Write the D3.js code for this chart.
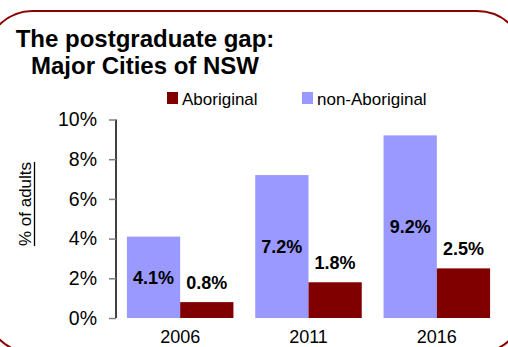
<!DOCTYPE html>
<html>
<head>
<meta charset="utf-8">
<script src="https://cdn.jsdelivr.net/npm/d3@7"></script>
<style>
  html, body { margin: 0; padding: 0; background: #fff; }
  svg { display: block; font-family: "Liberation Sans", Arial, sans-serif; }
</style>
</head>
<body>
<svg id="chart" width="508" height="347"></svg>
<script>
// Census years and share of adults holding a postgraduate qualification (%)
const years = ["2006", "2011", "2016"];
const aboriginal = [0.8, 1.8, 2.5];
const nonAboriginal = [4.1, 7.2, 9.2];
const yTicks = [0, 2, 4, 6, 8, 10];
const seriesNames = ["non-Aboriginal", "Aboriginal"];
const legendNames = ["Aboriginal", "non-Aboriginal"];

const colors = { "Aboriginal": "#800000", "non-Aboriginal": "#9999ff" };

const svg = d3.select("#chart");

// Rounded frame around the whole panel
svg.append("rect")
  .attr("x", -15).attr("y", 11)
  .attr("width", 540).attr("height", 342)
  .attr("rx", 48).attr("ry", 48)
  .attr("fill", "none")
  .attr("stroke", "#8b0000")
  .attr("stroke-width", 2);

// Title
const title = svg.append("text")
  .attr("text-anchor", "middle")
  .attr("font-weight", "bold")
  .attr("font-size", 24)
  .attr("fill", "#000");
title.append("tspan").attr("x", 145).attr("y", 47).text("The postgraduate gap:");
title.append("tspan").attr("x", 145).attr("y", 74).text("Major Cities of NSW");

// Scales
const x = d3.scaleBand().domain(years).range([116, 501]).paddingInner(0.17).paddingOuter(0.085);
const xInner = d3.scaleBand().domain(seriesNames).range([0, x.bandwidth()]);
const y = d3.scaleLinear().domain([0, 10]).range([318, 119.5]);

// Y axis
const yAxis = svg.append("g")
  .attr("transform", "translate(116,0)")
  .call(d3.axisLeft(y).tickValues(yTicks).tickFormat(d => d + "%").tickSize(7).tickPadding(12));
yAxis.select(".domain").attr("stroke", "#000").attr("stroke-width", 1.5).attr("d", `M0,${y(10)}V${y(0)}`);
yAxis.selectAll(".tick line").attr("stroke", "#808080").attr("stroke-width", 1.5);
yAxis.selectAll(".tick text")
  .attr("font-size", 19.5)
  .attr("font-family", "Liberation Sans, Arial, sans-serif")
  .attr("fill", "#000");

// X axis labels
const xAxis = svg.append("g")
  .attr("transform", `translate(0,${y(0)})`)
  .call(d3.axisBottom(x).tickSize(0).tickPadding(12));
xAxis.select(".domain").remove();
xAxis.selectAll(".tick text")
  .attr("font-size", 18)
  .attr("font-family", "Liberation Sans, Arial, sans-serif")
  .attr("fill", "#000");

// Y axis title with underline
const yTitle = svg.append("text")
  .attr("transform", "translate(31,204) rotate(-90)")
  .attr("text-anchor", "middle")
  .attr("font-size", 17)
  .attr("fill", "#000")
  .text("% of adults");
const tb = yTitle.node().getBBox();
svg.append("line")
  .attr("x1", 34.5).attr("x2", 34.5)
  .attr("y1", 204 - tb.width / 2).attr("y2", 204 + tb.width / 2)
  .attr("stroke", "#000").attr("stroke-width", 1.3);

// Bars
const rows = years.map((yr, i) => ({ year: yr, "Aboriginal": aboriginal[i], "non-Aboriginal": nonAboriginal[i] }));
const groups = svg.append("g").selectAll("g")
  .data(rows).join("g")
  .attr("transform", d => `translate(${x(d.year)},0)`);

groups.selectAll("rect")
  .data(d => seriesNames.map(k => ({ key: k, value: d[k] })))
  .join("rect")
  .attr("x", d => xInner(d.key))
  .attr("width", xInner.bandwidth())
  .attr("y", d => y(d.value))
  .attr("height", d => y(0) - y(d.value))
  .attr("fill", d => colors[d.key]);

// Value labels: centred inside the tall bars, above the short bars
groups.selectAll("text.val")
  .data(d => seriesNames.map(k => ({ key: k, value: d[k] })))
  .join("text")
  .attr("class", "val")
  .attr("x", d => xInner(d.key) + xInner.bandwidth() / 2)
  .attr("y", d => d.key === "non-Aboriginal" ? (y(d.value) + y(0)) / 2 : y(d.value) - 20)
  .attr("dy", "0.36em")
  .attr("text-anchor", "middle")
  .attr("font-weight", "bold")
  .attr("font-size", 18)
  .attr("fill", "#000")
  .text(d => d.value.toFixed(1) + "%");

// Legend
const legendX = [167, 302];
const legend = svg.append("g").selectAll("g")
  .data(legendNames).join("g")
  .attr("transform", (d, i) => `translate(${legendX[i]},92)`);
legend.append("rect")
  .attr("width", 11).attr("height", 12)
  .attr("fill", d => colors[d]);
legend.append("text")
  .attr("x", 15).attr("y", 12.5)
  .attr("font-size", 17)
  .attr("fill", "#000")
  .text(d => d);
</script>
</body>
</html>
